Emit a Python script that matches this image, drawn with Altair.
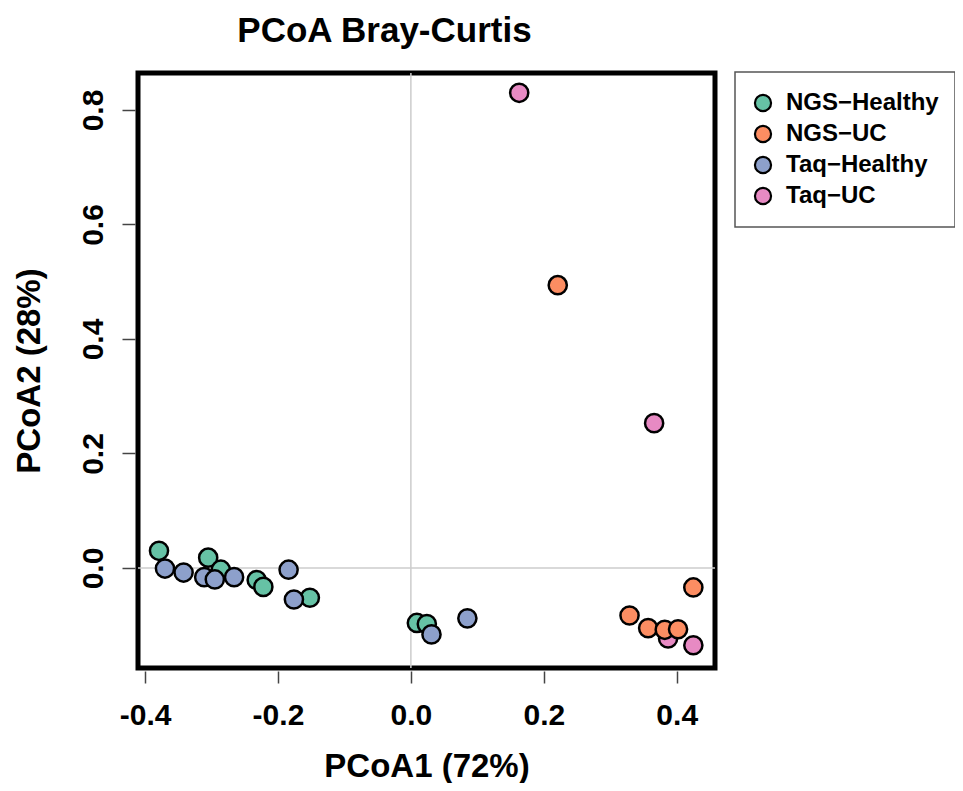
import altair as alt
import pandas as pd

# ---------------- data ----------------
groups = ["NGS-Healthy", "NGS-UC", "Taq-Healthy", "Taq-UC"]
group_colors = ["#66C2A5", "#FC8D62", "#8DA0CB", "#E78AC3"]

ngs_healthy_x = [-0.379, -0.305, -0.286, -0.232, -0.222, -0.152, 0.009, 0.024]
ngs_healthy_y = [0.030, 0.018, -0.003, -0.021, -0.033, -0.052, -0.096, -0.098]

taq_healthy_x = [-0.370, -0.342, -0.311, -0.295, -0.266, -0.184, -0.176, 0.031, 0.085]
taq_healthy_y = [-0.001, -0.008, -0.016, -0.020, -0.016, -0.003, -0.055, -0.116, -0.088]

ngs_uc_x = [0.221, 0.425, 0.329, 0.357, 0.382, 0.402]
ngs_uc_y = [0.494, -0.034, -0.083, -0.105, -0.108, -0.107]

taq_uc_x = [0.163, 0.366, 0.387, 0.425]
taq_uc_y = [0.830, 0.253, -0.123, -0.135]

x_ticks = [-0.4, -0.2, 0.0, 0.2, 0.4]
y_ticks = [0.0, 0.2, 0.4, 0.6, 0.8]
x_domain = [-0.4106, 0.4576]
y_domain = [-0.1747, 0.8646]
zero_line = [0.0]

# drawing order: pink first, then green, blue, orange on top
rows = []
for name, xs, ys in [("Taq-UC", taq_uc_x, taq_uc_y),
                     ("NGS-Healthy", ngs_healthy_x, ngs_healthy_y),
                     ("Taq-Healthy", taq_healthy_x, taq_healthy_y),
                     ("NGS-UC", ngs_uc_x, ngs_uc_y)]:
    for a, b in zip(xs, ys):
        rows.append({"PC1": a, "PC2": b, "group": name})
df = pd.DataFrame(rows)
zero_df = pd.DataFrame({"PC1": zero_line, "PC2": zero_line})

FONT = "Liberation Sans"

x_enc = alt.X(
    "PC1:Q",
    scale=alt.Scale(domain=x_domain, nice=False, zero=False),
    axis=alt.Axis(
        title="PCoA1 (72%)", values=x_ticks,
        labelExpr="replace(format(datum.value, '.1f'), '\u2212', '-')",
        grid=False, domain=False, tickSize=12, tickColor="#444444", tickWidth=1.5,
        offset=3, labelPadding=17, labelFont=FONT, labelFontSize=30,
        labelFontWeight="bold", labelColor="black", labelFlush=False, labelOverlap=False,
        titleFont=FONT, titleFontSize=33, titleFontWeight="bold", titleColor="black",
        titlePadding=20,
    ),
)
y_enc = alt.Y(
    "PC2:Q",
    scale=alt.Scale(domain=y_domain, nice=False, zero=False),
    axis=alt.Axis(
        title="PCoA2 (28%)", values=y_ticks,
        labelExpr="replace(format(datum.value, '.1f'), '\u2212', '-')",
        grid=False, domain=False, tickSize=13, tickColor="#444444", tickWidth=1.5,
        offset=3, labelPadding=20, labelAngle=270, labelAlign="center",
        labelBaseline="alphabetic",
        labelFont=FONT, labelFontSize=30, labelFontWeight="bold", labelColor="black",
        labelFlush=False, labelOverlap=False,
        titleFont=FONT, titleFontSize=33, titleFontWeight="bold", titleColor="black",
        titlePadding=32,
    ),
)

vline = alt.Chart(zero_df).mark_rule(color="#cccccc", strokeWidth=1.5).encode(x=x_enc)
hline = alt.Chart(zero_df).mark_rule(color="#cccccc", strokeWidth=1.5).encode(y=y_enc)

points = alt.Chart(df).mark_circle(
    size=330, opacity=1, stroke="black", strokeWidth=2.5
).encode(
    x=x_enc,
    y=y_enc,
    fill=alt.Fill(
        "group:N",
        scale=alt.Scale(domain=groups, range=group_colors),
        legend=alt.Legend(
            title=None, orient="none", legendX=597, legendY=-1,
            padding=16, rowPadding=1, clipHeight=30, labelOffset=11,
            labelFont=FONT, labelFontSize=24, labelFontWeight="bold", labelColor="black",
            labelExpr="replace(datum.label, '-', '\u2212')",
            symbolType="circle", symbolSize=260, symbolStrokeColor="black",
            symbolStrokeWidth=2.2, symbolOpacity=1,
            strokeColor="#555555",
        ),
    ),
)

chart = alt.layer(vline, hline, points).properties(
    width=577,
    height=595,
    autosize=alt.AutoSizeParams(type="none"),
    padding={"left": 130, "top": 65, "right": 240, "bottom": 115},
    title=alt.TitleParams(
        "PCoA Bray-Curtis", font=FONT, fontSize=35, fontWeight="bold",
        color="black", anchor="middle", dx=-42, offset=22,
    ),
).configure(
    font=FONT
).configure_view(
    stroke="black", strokeWidth=5
).configure_legend(
    strokeWidth=1.5
)

chart.save("out.html", embed_options={"renderer": "svg", "actions": False})
